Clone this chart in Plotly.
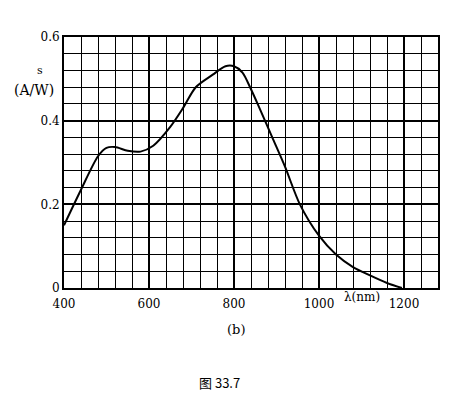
import plotly.graph_objects as go

# wavelength (nm) and responsivity s (A/W)
wavelength = [400, 440, 480, 500, 520, 550, 580, 610, 650, 680, 710, 750, 780, 800,
              820, 840, 860, 890, 920, 955, 1000, 1040, 1080, 1120, 1160, 1195]
responsivity = [0.15, 0.235, 0.315, 0.335, 0.337, 0.328, 0.326, 0.34, 0.385, 0.43, 0.48,
                0.51, 0.53, 0.53, 0.515, 0.475, 0.43, 0.36, 0.29, 0.2, 0.125, 0.08,
                0.05, 0.03, 0.012, 0.0]

x_ticks = [400, 600, 800, 1000, 1200]
x_ticktext = ["400", "600", "800", "1000", "1200"]
y_ticks = [0, 0.2, 0.4, 0.6]
y_ticktext = ["0", "0.2", "0.4", "0.6"]

font_serif = "DejaVu Serif"

fig = go.Figure()
fig.add_trace(go.Scatter(x=wavelength, y=responsivity, mode="lines",
                         line=dict(color="black", width=2, shape="spline", smoothing=0.8),
                         showlegend=False, hoverinfo="skip"))

# page body has an 8px margin, so the figure is shrunk and shifted accordingly
fig.update_layout(
    width=452, height=389,
    margin=dict(l=56, r=22, t=29, b=109),
    paper_bgcolor="white", plot_bgcolor="white",
    font=dict(family=font_serif, size=12, color="black"),
    xaxis=dict(range=[400, 1280], tickvals=x_ticks, ticktext=x_ticktext,
               showgrid=True, gridcolor="black", gridwidth=1.5,
               minor=dict(dtick=40, tick0=400, showgrid=True, gridcolor="black", gridwidth=1.4),
               showline=True, linecolor="black", linewidth=2, mirror=True,
               ticks="", zeroline=False, ticklabelstandoff=4,
               tickfont=dict(family=font_serif, size=12)),
    yaxis=dict(range=[0, 0.6], tickvals=y_ticks, ticktext=y_ticktext,
               showgrid=True, gridcolor="black", gridwidth=1.5,
               minor=dict(dtick=0.04, tick0=0, showgrid=True, gridcolor="black", gridwidth=1.4),
               showline=True, linecolor="black", linewidth=2, mirror=True,
               ticks="", zeroline=False,
               tickfont=dict(family=font_serif, size=12)),
)

annots = [
    dict(text="s", x=-0.065, y=0.868, size=11),
    dict(text="(A/W)", x=-0.08, y=0.789, size=14),
    dict(text="λ(nm)", x=0.797, y=-0.036, size=12),
    dict(text="(b)", x=0.46, y=-0.167, size=13),
]
for a in annots:
    fig.add_annotation(text=a["text"], x=a["x"], y=a["y"], xref="paper", yref="paper",
                       showarrow=False, xanchor="center", yanchor="middle",
                       font=dict(family=font_serif, size=a["size"], color="black"))
fig.add_annotation(text="图 33.7", x=0.417, y=-0.378, xref="paper", yref="paper",
                   showarrow=False, xanchor="center", yanchor="middle",
                   font=dict(family="Noto Sans CJK SC", size=13, color="black"))

fig.write_html("out.html")
